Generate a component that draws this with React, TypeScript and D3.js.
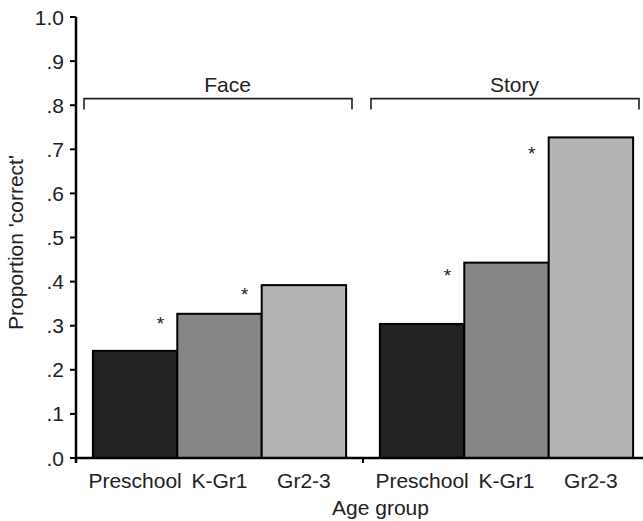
import React from "react";
import * as d3 from "d3";

// Age groups shown inside each task
const groups = ["Face", "Story"];
const ageGroups = ["Preschool", "K-Gr1", "Gr2-3"];

// Proportion 'correct' per task, in age-group order
const faceValues = [0.243, 0.327, 0.392];
const storyValues = [0.304, 0.443, 0.727];

// Significance stars: task, age group the star follows, height (proportion)
const starGroups = ["Face", "Face", "Story", "Story"];
const starAges = ["Preschool", "K-Gr1", "Preschool", "K-Gr1"];
const starLevels = [0.315, 0.38, 0.423, 0.7];

const yTicks = [0, 0.1, 0.2, 0.3, 0.4, 0.5, 0.6, 0.7, 0.8, 0.9, 1.0];
const bracketLevel = 0.815;

const barColors = ["#222222", "#868686", "#b4b4b4"];

const width = 643;
const height = 521;
const margin = { top: 17, right: -7, bottom: 63, left: 76 };

const fmtTick = (v: number) => (v === 1 ? "1.0" : d3.format(".1f")(v).replace(/^0/, ""));

const App = () => {
  const valuesByGroup: Record<string, number[]> = { Face: faceValues, Story: storyValues };

  const y = d3
    .scaleLinear()
    .domain([0, 1])
    .range([height - margin.bottom, margin.top]);

  const x0 = d3
    .scaleBand<string>()
    .domain(groups)
    .range([margin.left, width - margin.right])
    .padding(0);

  const x1 = d3
    .scaleBand<string>()
    .domain(ageGroups)
    .range([0, x0.bandwidth()])
    .paddingInner(0)
    .paddingOuter(0.2);

  const font = "'Liberation Sans', Arial, Helvetica, sans-serif";
  const baseY = y(0);

  return (
    <svg
      width={width}
      height={height}
      style={{ position: "absolute", left: 0, top: 0, background: "#fff" }}
      fontFamily={font}
    >
      {/* bars */}
      {groups.map((g) => (
        <g key={g} transform={`translate(${x0(g)},0)`}>
          {ageGroups.map((a, i) => {
            const v = valuesByGroup[g][i];
            return (
              <rect
                key={a}
                x={x1(a)}
                y={y(v)}
                width={x1.bandwidth()}
                height={baseY - y(v)}
                fill={barColors[i]}
                stroke="#000"
                strokeWidth={2}
              />
            );
          })}
          {ageGroups.map((a) => (
            <text
              key={a}
              x={(x1(a) ?? 0) + x1.bandwidth() / 2}
              y={baseY + 30}
              textAnchor="middle"
              fontSize={21}
              fill="#222"
            >
              {a}
            </text>
          ))}
        </g>
      ))}

      {/* stars */}
      {starLevels.map((lv, i) => {
        const gx = x0(starGroups[i]) ?? 0;
        const bx = x1(starAges[i]) ?? 0;
        return (
          <text
            key={i}
            x={gx + bx + x1.bandwidth() * 0.8}
            y={y(lv) + 11}
            textAnchor="middle"
            fontSize={19}
            fill="#222"
          >
            *
          </text>
        );
      })}

      {/* brackets over each task */}
      {groups.map((g) => {
        const gx = x0(g) ?? 0;
        const x_a = gx + 8;
        const x_b = gx + x0.bandwidth() - 11;
        const by = y(bracketLevel);
        return (
          <g key={g}>
            <path
              d={`M${x_a},${by + 11}V${by}H${x_b}V${by + 11}`}
              fill="none"
              stroke="#222"
              strokeWidth={1.6}
            />
            <text
              x={gx + x0.bandwidth() / 2 + 8}
              y={by - 7}
              textAnchor="middle"
              fontSize={21}
              fill="#222"
            >
              {g}
            </text>
          </g>
        );
      })}

      {/* y axis */}
      <line x1={margin.left} x2={margin.left} y1={y(1)} y2={baseY + 5} stroke="#000" strokeWidth={2.5} />
      {yTicks.map((t) => (
        <g key={t} transform={`translate(${margin.left},${y(t)})`}>
          <line x1={-6} x2={0} stroke="#000" strokeWidth={2} />
          <text x={-12} dy="0.36em" textAnchor="end" fontSize={21} fill="#222">
            {fmtTick(t)}
          </text>
        </g>
      ))}

      {/* x axis */}
      <line x1={margin.left} x2={width} y1={baseY} y2={baseY} stroke="#000" strokeWidth={2.5} />
      {groups.map((g) => (
        <line
          key={g}
          x1={x0(g)}
          x2={x0(g)}
          y1={baseY}
          y2={baseY + 5}
          stroke="#000"
          strokeWidth={2}
        />
      ))}

      {/* axis titles */}
      <text
        x={(margin.left + width) / 2 + 21}
        y={height - 6}
        textAnchor="middle"
        fontSize={21}
        fill="#222"
      >
        Age group
      </text>
      <text
        transform={`translate(23,${(153 + 332) / 2}) rotate(-90)`}
        textAnchor="middle"
        fontSize={21}
        fill="#222"
      >
        Proportion 'correct'
      </text>
    </svg>
  );
};

export default App;
